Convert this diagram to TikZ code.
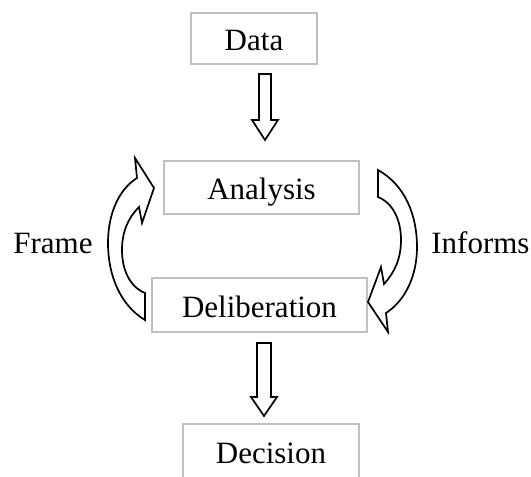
\documentclass[tikz,border=0pt]{standalone}
\usepackage{fontspec}
\setmainfont{Liberation Serif}
\usetikzlibrary{calc}
\definecolor{boxgray}{RGB}{192,192,192}
\begin{document}
\begin{tikzpicture}[x=0.5pt,y=-0.5pt,
  box/.style={draw=boxgray, line width=1pt, fill=white, inner sep=0pt,
    text height=12pt, text depth=0pt, font=\fontsize{15.5}{18}\selectfont},
  label/.style={inner sep=0pt, anchor=base west, font=\fontsize{15.5}{18}\selectfont},
  blockarrow/.style={draw=black, fill=white, line width=0.85pt, line join=miter}]
\useasboundingbox (0,0) rectangle (531,477);
\clip (0,0) rectangle (531,477);

% boxes
\node[box, minimum width=63pt,   minimum height=25.5pt] (data)  at (254,38.5)  {Data};
\node[box, minimum width=97.5pt, minimum height=26.5pt] (anal)  at (261.5,187.5) {Analysis};
\node[box, minimum width=107.5pt,minimum height=27pt]   (delib) at (259.5,305) {Deliberation};
\node[box, minimum width=88pt,   minimum height=27pt]   (dec)   at (271,451)   {Decision};

% side labels
\node[label] (frame)   at (13,253)  {Frame};
\node[label] (informs) at (431,253) {Informs};

% straight hollow arrows: Data -> Analysis, Deliberation -> Decision
\coordinate (d1) at (265,74);  \coordinate (t1) at (265,140);
\coordinate (d2) at (264,343); \coordinate (t2) at (264,416);
\draw[blockarrow] ($(d1)+(-6,0)$) -- ($(d1)+(6,0)$) -- ($(t1)+(6,-20)$) -- ($(t1)+(13,-20)$)
  -- (t1) -- ($(t1)+(-13,-20)$) -- ($(t1)+(-6,-20)$) -- cycle;
\draw[blockarrow] ($(d2)+(-7,0)$) -- ($(d2)+(7,0)$) -- ($(t2)+(7,-19)$) -- ($(t2)+(13,-19)$)
  -- (t2) -- ($(t2)+(-13,-19)$) -- ($(t2)+(-7,-19)$) -- cycle;

% curved hollow arrow on the left: Deliberation frames Analysis
\draw[blockarrow] (145,320) -- (145,293)
  .. controls (130,287) and (122,270) .. (122,250)
  .. controls (122,232) and (128,218) .. (139,207)
  -- (142,223) -- (154,188) -- (135,158) -- (137,178)
  .. controls (118,190) and (108,215) .. (108,243)
  .. controls (108,275) and (120,305) .. (145,320) -- cycle;

% curved hollow arrow on the right: Analysis informs Deliberation
\draw[blockarrow] (378,170) -- (378,197)
  .. controls (393,203) and (401,220) .. (401,240)
  .. controls (401,258) and (395,272) .. (384,284)
  -- (381,267) -- (368,302) -- (388,332) -- (386,313)
  .. controls (406,300) and (417,275) .. (417,247)
  .. controls (417,215) and (405,185) .. (378,170) -- cycle;
\end{tikzpicture}
\end{document}
